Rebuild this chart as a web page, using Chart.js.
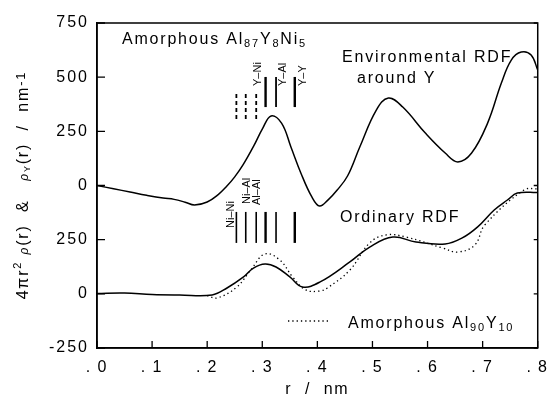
<!DOCTYPE html>
<html>
<head>
<meta charset="utf-8">
<script src="https://cdn.jsdelivr.net/npm/chart.js@4.4.0/dist/chart.umd.min.js"></script>
<style>
html,body{margin:0;background:#fff}
</style>
</head>
<body>
<canvas id="rdfChart" width="556" height="400"></canvas>
<script>
// Environmental RDF around Y (values as read on the upper, shifted scale)
const rUpper = [0, 0.03, 0.06, 0.09, 0.12, 0.14, 0.16, 0.177, 0.2, 0.22, 0.235, 0.25, 0.265, 0.285, 0.3, 0.316, 0.335, 0.352, 0.37, 0.39, 0.404, 0.42, 0.436, 0.455, 0.477, 0.507, 0.529, 0.555, 0.596, 0.632, 0.655, 0.68, 0.709, 0.734, 0.752, 0.77, 0.788, 0.8];
const yUpper = [0, -15, -30, -45, -58, -64, -77, -90, -76, -42, -5, 40, 95, 185, 260, 321, 288, 178, 58, -53, -95, -65, -21, 45, 178, 348, 404, 362, 242, 150, 109, 150, 288, 473, 579, 616, 602, 533];
const upperOffset = 500;

// Ordinary RDF, Al87Y8Ni5
const rLower = [0, 0.05, 0.1, 0.15, 0.209, 0.236, 0.266, 0.284, 0.305, 0.325, 0.35, 0.373, 0.405, 0.459, 0.495, 0.537, 0.579, 0.632, 0.663, 0.691, 0.721, 0.745, 0.763, 0.8];
const yLower = [2, 4, -3, -5, -5, 27, 78, 119, 138, 124, 78, 32, 55, 147, 216, 262, 239, 230, 258, 309, 387, 433, 465, 468];

// Ordinary RDF, Al90Y10 (dotted)
const rAlloy = [0.2, 0.218, 0.254, 0.279, 0.305, 0.332, 0.355, 0.379, 0.404, 0.418, 0.459, 0.495, 0.525, 0.561, 0.627, 0.655, 0.686, 0.704, 0.775, 0.8];
const yAlloy = [-8, -19, 32, 110, 184, 156, 78, 18, 13, 27, 110, 235, 272, 262, 212, 193, 226, 318, 479, 485];

// interatomic distances marked by bars
const bondNames = ['Ni–Ni', 'Ni–Al', 'Al–Al', 'Y–Ni', 'Y–Al', 'Y–Y'];
const bondR = [0.253, 0.270, 0.289, 0.306, 0.325, 0.359];

const toPts = (xs, ys, off) => xs.map((r, i) => ({x: r, y: ys[i] + (off || 0)}));
const FONT = '"Liberation Sans", Arial, sans-serif';

function rich(ctx, x, y, parts, align) {
    let w = 0;
    parts.forEach(p => { ctx.font = (p.style || '') + ' ' + p.size + 'px ' + FONT; p.w = ctx.measureText(p.t).width; w += p.w; });
    let cx = align === 'center' ? x - w / 2 : x;
    ctx.textAlign = 'left';
    parts.forEach(p => {
        ctx.font = (p.style || '') + ' ' + p.size + 'px ' + FONT;
        ctx.fillText(p.t, cx, y + (p.dy || 0));
        cx += p.w;
    });
}

const overlay = {
    id: 'overlay',
    beforeDraw(chart) { chart.ctx.letterSpacing = '2px'; },
    afterDraw(chart) {
        const {ctx, chartArea: a, scales: {x, y}} = chart;
        ctx.save();
        ctx.strokeStyle = '#000';
        ctx.fillStyle = '#000';
        ctx.lineWidth = 1.5;
        ctx.strokeRect(a.left, a.top, a.right - a.left, a.bottom - a.top);

        // inward ticks
        ctx.lineWidth = 1.3;
        ctx.beginPath();
        y.ticks.forEach(t => {
            const py = y.getPixelForValue(t.value);
            ctx.moveTo(a.left, py); ctx.lineTo(a.left + 8, py);
            ctx.moveTo(a.right, py); ctx.lineTo(a.right - 4, py);
        });
        x.ticks.forEach(t => {
            const px = x.getPixelForValue(t.value);
            ctx.moveTo(px, a.bottom); ctx.lineTo(px, a.bottom - 7);
        });
        ctx.stroke();

        // bond bars, upper set
        bondR.forEach((r, i) => {
            const px = x.getPixelForValue(r);
            ctx.lineWidth = (i === 3 || i === 5) ? 2.4 : 1.8;
            ctx.setLineDash(i < 3 ? [4, 3] : []);
            const top = i < 3 ? 922 : 1001, bot = i < 3 ? 793 : 862;
            ctx.beginPath();
            ctx.moveTo(px, y.getPixelForValue(top));
            ctx.lineTo(px, y.getPixelForValue(bot));
            ctx.stroke();
        });
        ctx.setLineDash([]);
        // bond bars, lower set
        bondR.forEach((r, i) => {
            const px = x.getPixelForValue(r);
            ctx.lineWidth = (i === 3 || i === 5) ? 2.4 : 1.6;
            ctx.beginPath();
            ctx.moveTo(px, y.getPixelForValue(378));
            ctx.lineTo(px, y.getPixelForValue(235));
            ctx.stroke();
        });

        // rotated bond labels
        ctx.letterSpacing = '0px';
        ctx.font = '11px ' + FONT;
        ctx.textAlign = 'left';
        ctx.textBaseline = 'middle';
        const lab = (txt, r, py) => {
            ctx.save();
            ctx.translate(x.getPixelForValue(r), py);
            ctx.rotate(-Math.PI / 2);
            ctx.fillText(txt, 0, 0);
            ctx.restore();
        };
        lab(bondNames[0], 0.243, 228);
        lab(bondNames[1], 0.272, 204);
        lab(bondNames[2], 0.291, 205);
        lab(bondNames[3], 0.293, 86);
        lab(bondNames[4], 0.338, 86);
        lab(bondNames[5], 0.373, 86);

        // captions
        ctx.textBaseline = 'alphabetic';
        ctx.letterSpacing = '1.8px';
        rich(ctx, 122, 44, [
            {t: 'Amorphous Al', size: 16}, {t: '87', size: 11, dy: 3},
            {t: 'Y', size: 16}, {t: '8', size: 11, dy: 3},
            {t: 'Ni', size: 16}, {t: '5', size: 11, dy: 3}
        ]);
        rich(ctx, 342, 62, [{t: 'Environmental RDF', size: 16}]);
        rich(ctx, 357, 83, [{t: 'around Y', size: 16}]);
        rich(ctx, 340, 222, [{t: 'Ordinary RDF', size: 16}]);
        rich(ctx, 348, 328, [
            {t: 'Amorphous Al', size: 16}, {t: '90', size: 11, dy: 3},
            {t: 'Y', size: 16}, {t: '10', size: 11, dy: 3}
        ]);
        // legend sample
        ctx.lineWidth = 1.3;
        ctx.setLineDash([1.3, 3]);
        ctx.beginPath(); ctx.moveTo(288, 321); ctx.lineTo(330, 321); ctx.stroke();
        ctx.setLineDash([]);

        // axis titles
        rich(ctx, (a.left + a.right) / 2, 394, [{t: 'r  /  nm', size: 16}], 'center');
        ctx.save();
        ctx.translate(28, 185);
        ctx.rotate(-Math.PI / 2);
        rich(ctx, 0, 0, [
            {t: '4πr', size: 16}, {t: '2', size: 11, dy: -7}, {t: ' ', size: 16},
            {t: 'ρ', size: 12, style: 'italic'}, {t: '(r)  &   ', size: 16},
            {t: 'ρ', size: 12, style: 'italic'}, {t: 'Y', size: 9, dy: 2},
            {t: '(r)  /  nm', size: 16}, {t: '-1', size: 13, dy: -3}
        ], 'center');
        ctx.restore();
        ctx.restore();
    }
};

new Chart(document.getElementById('rdfChart'), {
    type: 'scatter',
    data: {
        datasets: [
            {data: toPts(rUpper, yUpper, upperOffset), borderColor: '#000', borderWidth: 1.5},
            {data: toPts(rLower, yLower), borderColor: '#000', borderWidth: 1.5},
            {data: toPts(rAlloy, yAlloy), borderColor: '#000', borderWidth: 1.3, borderDash: [1.3, 3]}
        ]
    },
    options: {
        responsive: false,
        animation: false,
        showLine: true,
        elements: {
            point: {radius: 0},
            line: {tension: 0.4, fill: false}
        },
        layout: {padding: {top: 23, right: 11, left: 0, bottom: 0}},
        plugins: {legend: {display: false}, tooltip: {enabled: false}},
        scales: {
            x: {
                type: 'linear', min: 0, max: 0.8,
                ticks: {stepSize: 0.1, color: '#000', padding: 10, maxRotation: 0,
                    font: {family: FONT, size: 16},
                    callback: v => '.\u2009' + Math.round(v * 10)},
                grid: {drawOnChartArea: false, drawTicks: false},
                border: {color: '#000', width: 1.5},
                afterFit: s => { s.height = 52; }
            },
            y: {
                type: 'linear', min: -250, max: 1250,
                ticks: {stepSize: 250, color: '#000', padding: 8,
                    font: {family: FONT, size: 16},
                    callback: v => v >= upperOffset ? v - upperOffset : v},
                grid: {drawOnChartArea: false, drawTicks: false},
                border: {color: '#000', width: 1.5},
                afterFit: s => { s.width = 97; }
            }
        }
    },
    plugins: [overlay]
});
</script>
</body>
</html>
